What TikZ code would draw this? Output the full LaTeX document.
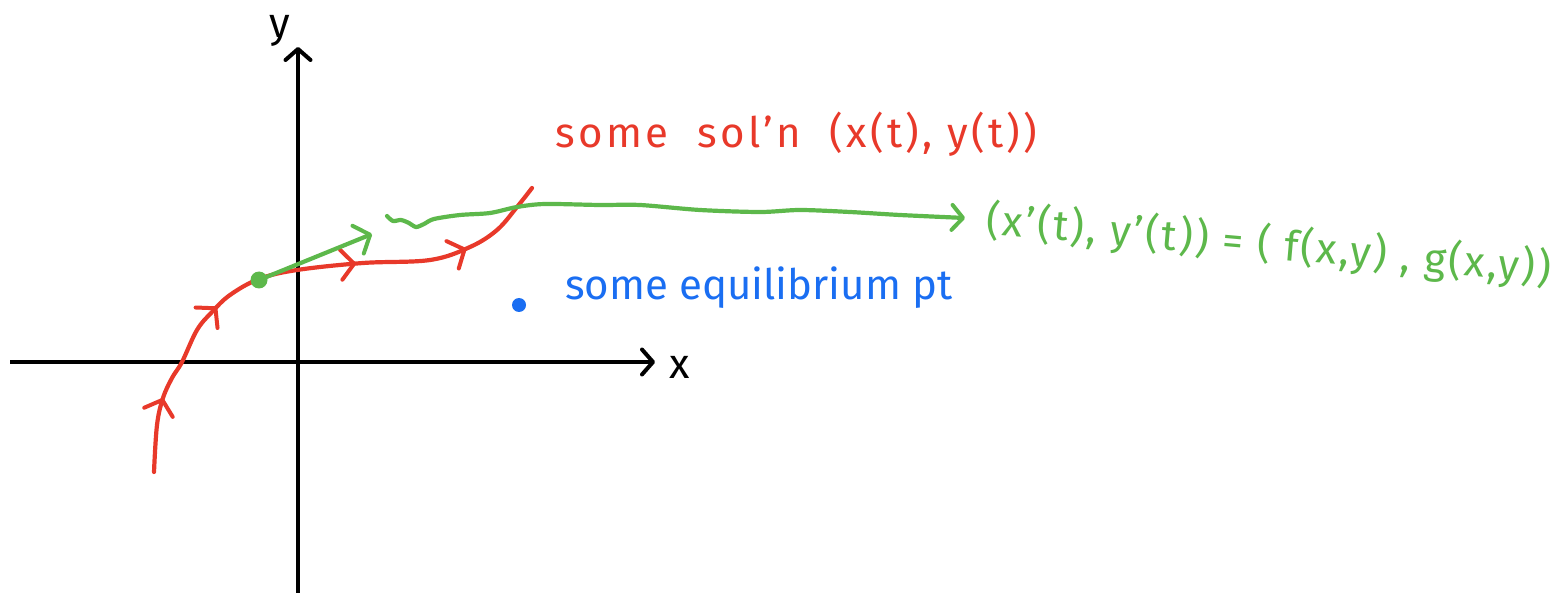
\documentclass[tikz,border=0pt]{standalone}
\usepackage{fontspec}
\setmainfont{Fira Sans}
\usetikzlibrary{arrows.meta,decorations.markings}
\definecolor{penred}{HTML}{E8392A}
\definecolor{pengreen}{HTML}{5DB84B}
\definecolor{penblue}{HTML}{1A6EF2}
\tikzset{
  barb/.tip={Straight Barb[length=11pt,width=25pt,line width=4pt,round]},
  bigbarb/.tip={Straight Barb[length=13pt,width=30pt,line width=4pt,round]},
  axisline/.style={line width=4pt,black},
  redpen/.style={line width=4.2pt,penred,line cap=round,line join=round},
  greenpen/.style={line width=4.2pt,pengreen,line cap=round,line join=round},
  handtext/.style={inner sep=0pt,anchor=base west,font=\fontsize{42}{46}\selectfont},
}
\begin{document}
\begin{tikzpicture}[x=1pt,y=-1pt]
\useasboundingbox (0,0) rectangle (1554,593);
% axes
\coordinate (xs) at (10,362);
\coordinate (xe) at (655,362);
\coordinate (ys) at (298,593);
\coordinate (ye) at (298,47);
\draw[axisline,-{barb}] (xs) -- (xe);
\draw[axisline,-{barb}] (ys) -- (ye);
\node[handtext,anchor=base] (xl) at (680,378) {x};
\node[handtext,anchor=base] (yl) at (280,38) {y};
% red solution curve
\draw[redpen,postaction={decorate},decoration={markings,
   mark=at position 0.14 with {\arrow{bigbarb}},
   mark=at position 0.34 with {\arrow{bigbarb}},
   mark=at position 0.62 with {\arrow{bigbarb}},
   mark=at position 0.83 with {\arrow{bigbarb}}}]
  plot[smooth,tension=0.6] coordinates {(154,472) (157,425) (163,398) (172,378) (182,362) (197,330) (212,312) (230,295) (259,279) (297,270) (363,263) (430,260) (470,247) (497,230) (517,207) (532,188)};
% green tangent arrow
\coordinate (gdot) at (259,280);
\coordinate (gtip) at (372,234);
\draw[greenpen,-{bigbarb}] (gdot) -- (gtip);
\fill[pengreen] (gdot) circle (8.5);
% green wavy line
\draw[greenpen,-{barb}] plot[smooth,tension=0.5] coordinates {(387,216) (393,221) (401,220) (409,223) (416,227) (424,224) (434,219) (460,215) (490,213) (517,207) (545,204) (600,205) (640,205) (700,210) (760,212) (800,210) (850,212) (900,215) (965,218)};
% blue equilibrium point
\coordinate (eq) at (519,305);
\fill[penblue] (eq) circle (7);
% texts
\node[handtext,text=penred,font=\fontsize{42}{46}\selectfont\addfontfeatures{LetterSpace=8}] (sol) at (555,148) {some\ \ sol'n\ \ (x(t), y(t))};
\node[handtext,text=penblue] (eqt) at (565,300) {some equilibrium pt};
\node[handtext,text=pengreen,rotate=-5,font=\fontsize{42}{46}\selectfont\addfontfeatures{LetterSpace=6}] (der) at (985,234) {(x'(t), y'(t)) = ( f(x,y) , g(x,y))};
\end{tikzpicture}
\end{document}
